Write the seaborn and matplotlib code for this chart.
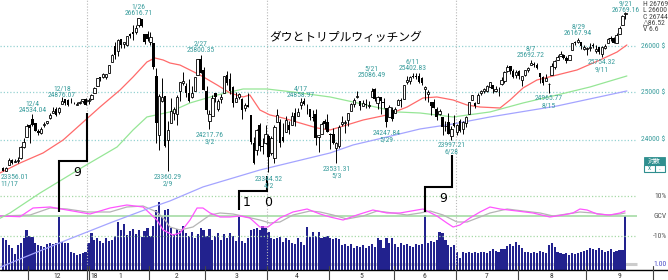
import numpy as np
import pandas as pd
import matplotlib
matplotlib.use("Agg")
import matplotlib.pyplot as plt
from matplotlib import font_manager
from matplotlib.lines import Line2D
from matplotlib.patches import Rectangle
import seaborn as sns

# ---------------- data ----------------
dates = (['11/17', '11/20', '11/21', '11/22', '11/24', '11/27', '11/28', '11/29', '11/30'] +
         ['12/1', '12/4', '12/5', '12/6', '12/7', '12/8', '12/11', '12/12', '12/13', '12/14', '12/15',
          '12/18', '12/19', '12/20', '12/21', '12/22', '12/26', '12/27', '12/28', '12/29'] +
         ['1/2', '1/3', '1/4', '1/5', '1/8', '1/9', '1/10', '1/11', '1/12', '1/16', '1/17', '1/18', '1/19',
          '1/22', '1/23', '1/24', '1/25', '1/26', '1/29', '1/30', '1/31'] +
         ['2/1', '2/2', '2/5', '2/6', '2/7', '2/8', '2/9', '2/12', '2/13', '2/14', '2/15', '2/16', '2/20',
          '2/21', '2/22', '2/23', '2/26', '2/27', '2/28'] +
         ['3/1', '3/2', '3/5', '3/6', '3/7', '3/8', '3/9', '3/12', '3/13', '3/14', '3/15', '3/16', '3/19',
          '3/20', '3/21', '3/22', '3/23', '3/26', '3/27', '3/28', '3/29'] +
         ['4/2', '4/3', '4/4', '4/5', '4/6', '4/9', '4/10', '4/11', '4/12', '4/13', '4/16', '4/17', '4/18',
          '4/19', '4/20', '4/23', '4/24', '4/25', '4/26', '4/27', '4/30'] +
         ['5/1', '5/2', '5/3', '5/4', '5/7', '5/8', '5/9', '5/10', '5/11', '5/14', '5/15', '5/16', '5/17',
          '5/18', '5/21', '5/22', '5/23', '5/24', '5/25', '5/29', '5/30', '5/31'] +
         ['6/1', '6/4', '6/5', '6/6', '6/7', '6/8', '6/11', '6/12', '6/13', '6/14', '6/15', '6/18', '6/19',
          '6/20', '6/21', '6/22', '6/25', '6/26', '6/27', '6/28', '6/29'] +
         ['7/2', '7/3', '7/5', '7/6', '7/9', '7/10', '7/11', '7/12', '7/13', '7/16', '7/17', '7/18', '7/19',
          '7/20', '7/23', '7/24', '7/25', '7/26', '7/27', '7/30', '7/31'] +
         ['8/1', '8/2', '8/3', '8/6', '8/7', '8/8', '8/9', '8/10', '8/13', '8/14', '8/15', '8/16', '8/17',
          '8/20', '8/21', '8/22', '8/23', '8/24', '8/27', '8/28', '8/29', '8/30', '8/31'] +
         ['9/4', '9/5', '9/6', '9/7', '9/10', '9/11', '9/12', '9/13', '9/14', '9/17', '9/18', '9/19',
          '9/20', '9/21'])

opens = ([23430, 23369, 23478, 23593, 23541, 23556, 23618, 23856, 24043] +
         [24305, 24424, 24335, 24177, 24136, 24291, 24347, 24452, 24555, 24640, 24572, 24739, 24849, 24832,
          24788, 24764, 24715, 24766, 24799, 24849] +
         [24809, 24850, 24964, 25115, 25309, 25313, 25307, 25406, 25638, 25985, 25881, 26149, 26036, 26026,
          26257, 26313, 26313, 26466, 26597, 26262, 26268] +
         [26083, 26062, 25338, 24085, 24800, 24902, 23993, 24337, 24541, 24535, 25018, 25180, 25124, 24964,
          24882, 25005, 25364, 25703, 25474] +
         [25024, 24382, 24496, 24966, 24628, 24840, 24978, 25353, 25262, 25105, 24783, 24878, 24849, 24644,
          24727, 24511, 23924, 23784, 24306, 23877, 23927] +
         [24077, 23734, 23627, 24360, 24361, 24061, 24157, 24293, 24301, 24552, 24478, 24723, 24804, 24679,
          24636, 24469, 24530, 24060, 24113, 24380, 24359] +
         [24118, 24103, 23836, 23866, 24317, 24341, 24399, 24586, 24747, 24886, 24802, 24700, 24745, 24701,
          24883, 25047, 24765, 24877, 24790, 24657, 24462, 24609] +
         [24542, 24718, 24813, 24852, 25198, 25239, 25333, 25343, 25326, 25286, 25059, 24954, 24784, 24772,
          24643, 24523, 24471, 24282, 24363, 24079, 24335] +
         [24160, 24375, 24225, 24347, 24520, 24828, 24765, 24754, 24973, 25013, 25016, 25097, 25143, 25009,
          25045, 25170, 25235, 25455, 25547, 25438, 25351] +
         [25436, 25242, 25355, 25471, 25567, 25603, 25579, 25394, 25309, 25223, 25155, 25353, 25542, 25691,
          25773, 25802, 25721, 25684, 25900, 26087, 26082, 26093, 25919] +
         [25916, 25959, 26008, 25880, 25962, 25825, 25942, 26059, 26165, 26166, 26069, 26264, 26469, 26714])

highs = ([23438, 23452, 23618, 23602, 23602, 23638, 23870, 24025, 24327] +
         [24324, 24534.04, 24350, 24223, 24250, 24360, 24388, 24553, 24669, 24670, 24668, 24876.07, 24851,
          24852, 24871, 24784, 24778, 24799, 24840, 24871] +
         [24864, 24942, 25105, 25299, 25311, 25404, 25370, 25577, 25807, 26086, 26153, 26150, 26071, 26215,
          26294, 26459, 26458, 26616.71, 26608, 26262, 26338] +
         [26307, 26062, 25520, 24947, 25293, 24903, 24382, 24857, 24669, 24925, 25201, 25432, 25193, 25273,
          25121, 25310, 25710, 25800.35, 25530] +
         [25122, 24605, 24935, 24980, 24844, 24957, 25337, 25449, 25401, 25116, 24990, 24980, 24869, 24761,
          24967, 24511, 24050, 24222, 24347, 24034, 24306] +
         [24113, 24078, 24295, 24623, 24429, 24335, 24479, 24392, 24567, 24663, 24650, 24858.97, 24858, 24729,
          24640, 24614, 24636, 24091, 24352, 24434, 24519] +
         [24124, 24230, 23952, 24294, 24479, 24412, 24557, 24755, 24858, 25014, 24802, 24830, 24843, 24800,
          25086.49, 25075, 24899, 24877, 24858, 24658, 24716, 24685] +
         [24676, 24853, 24873, 25152, 25327, 25330, 25402.83, 25393, 25392, 25325, 25115, 25029, 24787, 24853,
          24678, 24630, 24471, 24384, 24548, 24270, 24510] +
         [24320, 24420, 24373, 24482, 24789, 24934, 24778, 24968, 25039, 25076, 25137, 25215, 25143, 25120,
          25091, 25318, 25437, 25572, 25550, 25485, 25461] +
         [25456, 25339, 25471, 25528, 25692.72, 25631, 25620, 25394, 25344, 25371, 25175, 25614, 25690, 25787,
          25888, 25820, 25767, 25799, 26071, 26113, 26167.94, 26093, 26012] +
         [25978, 26058, 26052, 26007, 25966, 26000, 26030, 26179, 26218, 26197, 26285, 26433, 26680, 26769.16])

lows = ([23356.01, 23369, 23478, 23497, 23541, 23531, 23601, 23828, 24043] +
        [23922, 24276, 24174, 24100, 24123, 24265, 24315, 24421, 24547, 24495, 24524, 24739, 24719, 24700,
         24763, 24728, 24715, 24741, 24767, 24719] +
        [24742, 24825, 24963, 25113, 25235, 25290, 25265, 25406, 25636, 25710, 25768, 25954, 25942, 25993,
         26168, 26135, 26270, 26425, 26418, 26034, 26101] +
        [26015, 25490, 23924, 23778, 24786, 23849, 23360.29, 24337, 24407, 24303, 24794, 25144, 24881, 24779,
         24874, 25005, 25364, 25395, 25029] +
        [24522, 24217.76, 24476, 24779, 24581, 24764, 24978, 25153, 24955, 24685, 24781, 24835, 24418, 24600,
         24682, 23910, 23510, 23676, 23756, 23702, 23917] +
        [23344.52, 23690, 23522, 24360, 23849, 23947, 24157, 24118, 24301, 24278, 24478, 24635, 24717, 24524,
         24410, 24378, 23894, 23745, 24113, 24206, 24163] +
        [23809, 23917, 23531.31, 23829, 24272, 24140, 24287, 24586, 24679, 24864, 24620, 24700, 24645, 24661,
         24883, 24808, 24626, 24532, 24659, 24247.84, 24462, 24378] +
        [24542, 24718, 24684, 24852, 25161, 25174, 25300, 25275, 25189, 25152, 24818, 24782, 24498, 24650,
         24394, 24498, 24084, 24178, 24105, 23997.21, 24248] +
        [24095, 24151, 24104, 24258, 24520, 24828, 24656, 24754, 24931, 24970, 24992, 25097, 24968, 24994,
         24911, 25146, 25176, 25431, 25379, 25290, 25300] +
        [25262, 25126, 25344, 25416, 25567, 25529, 25480, 25192, 25143, 25223, 24965.77, 25353, 25497, 25691,
         25773, 25713, 25626, 25684, 25900, 26012, 26053, 25935, 25899] +
        [25804, 25884, 25946, 25846, 25826, 25754.32, 25924, 26059, 26113, 26050, 26069, 26264, 26469, 26600])

closes = ([23358, 23430, 23591, 23526, 23558, 23581, 23837, 23941, 24272] +
          [24232, 24290, 24181, 24141, 24211, 24329, 24386, 24505, 24585, 24509, 24652, 24792, 24755, 24727,
           24782, 24754, 24746, 24774, 24838, 24719] +
          [24824, 24923, 25075, 25296, 25283, 25386, 25369, 25575, 25803, 25793, 26116, 26018, 26072, 26215,
           26211, 26252, 26393, 26616.71, 26439, 26077, 26149] +
          [26187, 25521, 24346, 24913, 24893, 23860, 24191, 24601, 24640, 24893, 25200, 25219, 24965, 24798,
           24962, 25310, 25709, 25410, 25029] +
          [24609, 24538, 24875, 24884, 24801, 24895, 25336, 25179, 25007, 24758, 24874, 24947, 24611, 24727,
           24682, 23958, 23533, 24203, 23858, 23848, 24103] +
          [23644, 24033, 24264, 24505, 23933, 23979, 24408, 24189, 24483, 24360, 24573, 24787, 24748, 24665,
           24463, 24449, 24024, 24084, 24322, 24311, 24163] +
          [24099, 23925, 23930, 24263, 24357, 24360, 24543, 24740, 24831, 24899, 24706, 24769, 24714, 24715,
           25013, 24834, 24887, 24812, 24753, 24361, 24668, 24416] +
          [24635, 24814, 24800, 25146, 25241, 25317, 25322, 25321, 25201, 25175, 25090, 24987, 24700, 24658,
           24462, 24581, 24253, 24283, 24118, 24216, 24271] +
          [24307, 24175, 24357, 24456, 24777, 24920, 24700, 24925, 25019, 25064, 25120, 25199, 25065, 25058,
           25044, 25242, 25414, 25527, 25451, 25307, 25415] +
          [25334, 25326, 25463, 25502, 25629, 25584, 25509, 25313, 25188, 25300, 25162, 25559, 25669, 25759,
           25822, 25734, 25657, 25790, 26050, 26064, 26125, 25987, 25965] +
          [25952, 25975, 25996, 25917, 25857, 25971, 25999, 26146, 26155, 26062, 26247, 26406, 26657, 26744])

volumes = ([4.0, 3.8, 3.2, 2.9, 2.2, 3.2, 3.4, 4.0, 5.0] +
           [4.3, 4.2, 3.4, 3.2, 3.1, 3.0, 3.3, 3.4, 3.3, 3.4, 6.5, 3.6, 3.5, 3.4, 2.4, 2.3, 2.1, 2.2, 2.3, 2.4] +
           [3.4, 4.6, 3.8, 4.0, 3.7, 3.5, 4.0, 3.7, 3.8, 4.3, 5.9, 5.0, 5.7, 4.4, 4.8, 5.1, 4.5, 5.0, 4.2, 4.8,
            5.2] +
           [4.3, 5.4, 7.3, 8.2, 6.6, 7.3, 7.4, 5.2, 4.5, 5.1, 4.8, 5.4, 4.6, 4.3, 4.7, 4.0, 4.5, 5.2, 5.0] +
           [4.3, 5.1, 3.8, 4.3, 4.6, 3.8, 4.5, 4.0, 4.6, 4.3, 3.7, 6.6, 3.7, 3.5, 4.0, 5.0, 5.1, 5.2, 5.0, 5.4,
            5.2] +
           [4.7, 4.0, 3.9, 4.0, 4.2, 3.6, 4.0, 3.8, 3.5, 3.3, 4.0, 3.6, 3.2, 5.3, 4.2, 4.7, 4.3, 4.7, 4.0, 4.2,
            4.3] +
           [4.0, 3.9, 4.0, 3.9, 3.2, 3.3, 3.1, 3.3, 2.9, 3.1, 3.0, 3.2, 2.9, 3.1, 3.3, 3.0, 4.0, 3.8, 2.9, 4.0,
            3.4, 4.0] +
           [3.3, 3.0, 3.4, 3.2, 3.3, 3.1, 3.0, 3.3, 3.2, 3.3, 6.7, 3.5, 3.7, 3.6, 3.8, 4.7, 4.6, 3.8, 3.2, 3.0,
            3.2] +
           [2.4, 1.7, 2.4, 2.3, 2.4, 2.3, 2.4, 2.3, 2.4, 2.4, 2.3, 2.5, 2.8, 2.5, 2.4, 2.8, 2.8, 3.1, 3.3, 3.1,
            3.6] +
           [3.2, 2.9, 2.4, 2.4, 2.3, 2.4, 2.3, 2.5, 2.4, 2.3, 3.2, 3.5, 3.0, 2.4, 2.3, 2.2, 2.3, 2.1, 2.3, 2.2,
            2.3, 2.4, 2.5] +
           [2.6, 2.9, 2.8, 2.6, 2.9, 2.6, 2.4, 2.5, 2.8, 2.4, 2.5, 2.6, 2.6, 6.6])

# moving averages (red / green / blue), read at trading-day positions
ma25_x = [-1, 5.8, 13.6, 20.4, 32.9, 39.7, 44.1, 48.8, 51.5, 54.3, 56.6, 60.0, 66.8, 72.6, 77.0, 81.4,
          83.7, 87.1, 90.5, 94.9, 100.7, 106.5, 110.9, 114.3, 122.1, 130.2, 137.0, 142.4, 147.1, 152.6,
          157.3, 161.7, 168.5, 171.9, 176.3, 181.0, 187.8, 194.6, 202.4, 208.2, 211.5]
ma25_v = [23325, 23524, 23726, 23990, 24675, 25036, 25315, 25641, 25729, 25685, 25619, 25575, 25358,
          25143, 24972, 24887, 24929, 24612, 24508, 24445, 24341, 24237, 24196, 24258, 24403, 24508, 24675,
          24866, 24887, 24823, 24717, 24675, 24654, 24823, 25079, 25250, 25358, 25467, 25685, 25861, 26016]
ma75_x = [-1, 2.4, 12.6, 27.1, 38.7, 44.1, 48.8, 56.6, 63.4, 72.6, 81.4, 89.5, 98.3, 110.9, 118.7, 127.8,
          133.6, 141.4, 152.6, 165.1, 176.3, 187.8, 199.0, 211.5]
ma75_v = [22440, 22542, 22930, 23444, 23848, 24196, 24466, 24571, 24760, 24929, 25057, 25057, 24993,
          24887, 24781, 24654, 24571, 24549, 24466, 24571, 24760, 24929, 25100, 25337]
ma200_x = [-1, 3.4, 21.7, 36.3, 49.8, 56.6, 67.8, 87.1, 110.9, 118.7, 130.2, 141.4, 152.6, 165.1,
           187.8, 211.5]
ma200_v = [21520, 21620, 22029, 22351, 22639, 22774, 23048, 23384, 23726, 23889, 24052, 24217, 24320,
           24466, 24696, 25015]

# oscillators (percent): magenta and gray lines
osc1_x = [-1, 5.8, 10.2, 16, 21.7, 29.5, 36.3, 42, 47.5, 52.2, 54.3, 57.6, 60, 63.4, 65.8, 67.8, 70.2,
          73.6, 77, 80.4, 83.7, 87.1, 89.8, 93.9, 98.3, 103.1, 107.5, 110.9, 115.3, 120, 125.4, 130.2,
          134.6, 140.4, 142.4, 147.1, 150.5, 152.6, 154.9, 158.3, 161.7, 165.1, 168.5, 174.3, 179.7,
          185.4, 189.8, 193.2, 195.6, 198, 201.4, 205.8, 209.2, 210.9]
osc1_v = [0, -0.35, 4, 4.5, 3, 1, 4, 5.5, 4.5, -2, -7, -9.5, -8.5, -2, 4, 4, 1.5, -0.5, -0.5, 0, -1,
          -5.5, -5.5, -1, 2, 3.5, 1, -0.5, -2, 0.5, 3, 1.5, 1.5, 3, 3.5, 0, -3.5, -5.5, -4.5, -1, 2, 4.5,
          3.5, 2.5, 1.5, -0.5, 0.5, 1.5, 3.5, 3, 1, 0.5, 1.5, 2.5]
osc2_x = [-1, 9.2, 16, 21.7, 28.5, 36.3, 42, 47.5, 52.2, 54.9, 56.6, 60, 64.4, 70.2, 73.6, 78, 82.7,
          87.1, 90.5, 93.9, 98.3, 104.1, 107.5, 111.9, 116.6, 122.1, 126.8, 132.2, 137, 141.4, 144.8,
          149.2, 153.9, 157.3, 161.7, 165.1, 170.9, 176.3, 182.1, 186.5, 191.2, 195.6, 200, 204.8,
          209.2, 210.9]
osc2_v = [0, 0.5, 4, 3.5, 2, 2, 4.5, 5, 2, -2, -5.5, -7, -5.5, 0.5, 1.5, 1, -0.5, -2, -3.5, -3, 0.5,
          2.5, 2, 0.5, -1.5, 0, 2.5, 1.5, 0.5, 1.5, 2.5, 0.5, -3, -3, -0.5, 1.5, 3.5, 2.5, 1.5, 0, 1, 2,
          1.5, 0.5, 1, 1.5]

# labelled highs / lows
label_dates = ['11/17', '12/4', '12/18', '1/26', '2/9', '2/27', '3/2', '4/2', '4/17', '5/3', '5/21',
               '5/29', '6/11', '6/28', '8/7', '8/15', '8/29', '9/11', '9/21']
label_kind = ['L', 'H', 'H', 'H', 'L', 'H', 'L', 'L', 'H', 'L', 'H', 'L', 'H', 'L', 'H', 'L', 'H', 'L', 'H']

# triple-witching bracket annotations (weeks between)
bracket_texts = ['9', '10', '9']

month_labels = ['12', '1', '2', '3', '4', '5', '6', '7', '8', '9']
price_grid = [26000, 25000, 24000]
title = 'ダウとトリプルウィッチング'
info_lines = ['H 26769', 'L 26600', 'C 26744', '△86.52', 'V 6.6']

# ---------------- drawing ----------------
sns.set_theme(style="white")
plt.rcParams['font.family'] = ['DejaVu Sans']


def pick_font(cands):
    for cand in cands:
        try:
            font_manager.findfont(font_manager.FontProperties(family=cand), fallback_to_default=False)
            return cand
        except Exception:
            pass
    return 'DejaVu Sans'


NARROW = [pick_font(['Liberation Sans Narrow', 'DejaVu Sans Condensed', 'Roboto Condensed', 'DejaVu Sans']),
          'DejaVu Sans']
CJK = ['Noto Sans CJK JP', 'DejaVu Sans']

W, H = 668, 280
PX = 2.95            # pixels per trading day
TEAL = '#3a9d9d'

fig = plt.figure(figsize=(W / 100, H / 100), dpi=100)
fig.patch.set_facecolor('white')
rect = [0, 10 / H, 1, 270 / H]
axv = fig.add_axes(rect)
axo = fig.add_axes(rect)
axp = fig.add_axes(rect)
for a in (axv, axo, axp):
    a.set_facecolor('none')
    for s in a.spines.values():
        s.set_visible(False)
    a.grid(False)

idx = np.arange(len(dates))
o = np.array(opens, float)
h = np.array(highs, float)
l = np.array(lows, float)
c = np.array(closes, float)
v = np.array(volumes, float)


def px2i(px):
    return px / PX - 1


grid_end = px2i(637)

# volume
axv.hlines(1.0, -1, grid_end, colors='#cccccc', lw=2.2, zorder=1)
axv.bar(idx, v, width=0.72, color='#22228e', linewidth=0, zorder=2)

# oscillator panel
axo.hlines([10, -10], -1, grid_end, colors='#a6d9a6', linestyles=(0, (1, 1.6)), lw=0.9, zorder=1)
axo.hlines(0, -1, grid_end, colors='#a6dca6', lw=1.2, zorder=1)
sns.lineplot(x=osc2_x, y=osc2_v, ax=axo, color='#b5b5b5', lw=0.9, sort=False, zorder=3)
sns.lineplot(x=osc1_x, y=osc1_v, ax=axo, color='#ff55ff', lw=0.9, sort=False, zorder=4)

# price panel
axp.set_yscale('log')
axp.hlines(price_grid, -1, grid_end, colors='#96d2d2', linestyles=(0, (1, 1.6)), lw=0.9, zorder=1)
for d in ['1/2', '4/2', '7/2']:
    axp.axvline(dates.index(d) - 0.5, color='#b8b8b8', ls=(0, (1, 1.6)), lw=0.8, zorder=1)
sns.lineplot(x=ma200_x, y=ma200_v, ax=axp, color='#a4a4ff', lw=0.9, sort=False, zorder=3)
sns.lineplot(x=ma75_x, y=ma75_v, ax=axp, color='#96e696', lw=0.9, sort=False, zorder=3)
sns.lineplot(x=ma25_x, y=ma25_v, ax=axp, color='#ff6a6a', lw=0.9, sort=False, zorder=3)

axp.vlines(idx, l, h, color='black', lw=0.7, zorder=5)
up = c >= o
axp.bar(idx[up], (c - o)[up], bottom=o[up], width=0.78, facecolor='white', edgecolor='black',
        linewidth=0.6, zorder=6)
axp.bar(idx[~up], (o - c)[~up], bottom=c[~up], width=0.78, color='black', linewidth=0, zorder=6)

for a in (axv, axo, axp):
    a.set_xlim(-1, W / PX - 1)
    a.set_xlabel('')
    a.set_ylabel('')
    a.tick_params(left=False, right=False, bottom=False, top=False, labelleft=False,
                  labelbottom=False, which='both')
axv.set_ylim(0.3, 0.3 + 270 / 8.57)
axo.set_ylim(-27, 108)
axp.set_ylim(26000 * np.exp((45.7 - 270) / 1172), 26000 * np.exp(45.7 / 1172))


# ---------- figure-pixel helpers ----------
def fx(px):
    return px / W


def fy(py):
    return 1 - py / H


def pline(xs, ys, **kw):
    fig.add_artist(Line2D([fx(x) for x in xs], [fy(y) for y in ys], transform=fig.transFigure, **kw))


def ptext(x, y, s, **kw):
    fig.text(fx(x), fy(y), s, transform=fig.transFigure, **kw)


def cx(i):
    return (i + 1) * PX


# x axis
pline([0, W], [270, 270], color='black', lw=1.0)
tick_dates = ['12/1', '1/2', '2/1', '3/1', '4/2', '5/1', '6/1', '7/2', '8/1', '9/4']
tick_px = [cx(dates.index(d)) - 1.5 for d in tick_dates] + [653]
for tp in tick_px:
    pline([tp, tp], [266, 280], color='#444444', lw=0.8)
pline([tick_px[1] + 2, tick_px[1] + 2], [266, 280], color='#444444', lw=0.8)
ptext(tick_px[1] + 3.5, 276, '18', fontsize=5.5, family=NARROW, color='#333333', ha='left', va='center')
mid_px = [57, 120, 177, 236, 297, 361, 424, 487, 551, 619]
for mp, lab in zip(mid_px, month_labels):
    ptext(mp, 276, lab, fontsize=5.5, family=NARROW, color='#333333', ha='center', va='center')

# labelled highs / lows
lab_y = [177, 110, 95, 13, 177, 50, 135, 179, 95, 169, 75, 133, 68, 145, 55, 98, 33, 62, 9.5]
for d, k, yv in zip(label_dates, label_kind, lab_y):
    i = dates.index(d)
    val = h[i] if k == 'H' else l[i]
    yd = yv - 6.5 if k == 'H' else yv + 7
    xx = cx(i)
    ha = 'center'
    if xx < 18:
        xx, ha = 0.5, 'left'
    ptext(xx, yv, f'{val:.2f}', fontsize=5.5, family=NARROW, color=TEAL, ha=ha, va='center')
    ptext(xx, yd, d, fontsize=5.5, family=NARROW, color=TEAL, ha=ha, va='center')

# right-hand price scale
for p in price_grid:
    yy = 45.7 + np.log(26000 / p) * 1172
    ptext(641, yy, f'{p} $', fontsize=5.5, family=NARROW, color=TEAL, ha='left', va='center')
ptext(667, 196, '10%', fontsize=5.5, family=NARROW, color='#555555', ha='right', va='center')
ptext(667, 216, 'GCV', fontsize=5.5, family=NARROW, color='#555555', ha='right', va='center')
ptext(667, 236, '-10%', fontsize=5.5, family=NARROW, color='#555555', ha='right', va='center')
ptext(667, 264, '1.00', fontsize=5.5, family=NARROW, color='#5050c8', ha='right', va='center')

# info panel
for k, s in enumerate(info_lines):
    ptext(643, 4 + 6.3 * k, s, fontsize=5.5, family=NARROW, color='#444444', ha='left', va='center')

# log toggle button
fig.add_artist(Rectangle((fx(644), fy(164.5)), 21 / W, 7.5 / H, transform=fig.transFigure,
                         facecolor='#2f8f8f', edgecolor='#2f8f8f', lw=0.6))
fig.add_artist(Rectangle((fx(644), fy(171.5)), 21 / W, 7 / H, transform=fig.transFigure,
                         facecolor='white', edgecolor='#2f8f8f', lw=0.8))
pline([654.5, 654.5], [164.5, 171.5], color='#2f8f8f', lw=0.8)
ptext(654.5, 160.8, '対数', fontsize=4.6, family=CJK, color='white', ha='center', va='center')
ptext(649.5, 168, 'x', fontsize=5, family=NARROW, color='#2f8f8f', ha='center', va='center')
ptext(659.5, 168, '.', fontsize=5, family=NARROW, color='#2f8f8f', ha='center', va='center')

# title
ptext(346, 38, title, fontsize=8.5, family=CJK, color='black', ha='center', va='center')

# triple witching brackets
bk = dict(color='black', lw=1.5, solid_capstyle='butt', solid_joinstyle='miter')
pline([59, 59, 87, 87], [212, 161, 161, 113], **bk)
pline([239, 239, 267, 267], [210, 190.5, 190.5, 176], **bk)
pline([425, 425, 452, 452], [212, 187, 187, 155], **bk)
ptext(77, 173, bracket_texts[0], fontsize=9, color='black', ha='center', va='center')
ptext(247, 202, bracket_texts[1][0], fontsize=9, color='black', ha='center', va='center')
ptext(268, 202, bracket_texts[1][1], fontsize=9, color='black', ha='center', va='center')
ptext(443, 198, bracket_texts[2], fontsize=9, color='black', ha='center', va='center')

fig.savefig('out.png', dpi=100, facecolor='white')
